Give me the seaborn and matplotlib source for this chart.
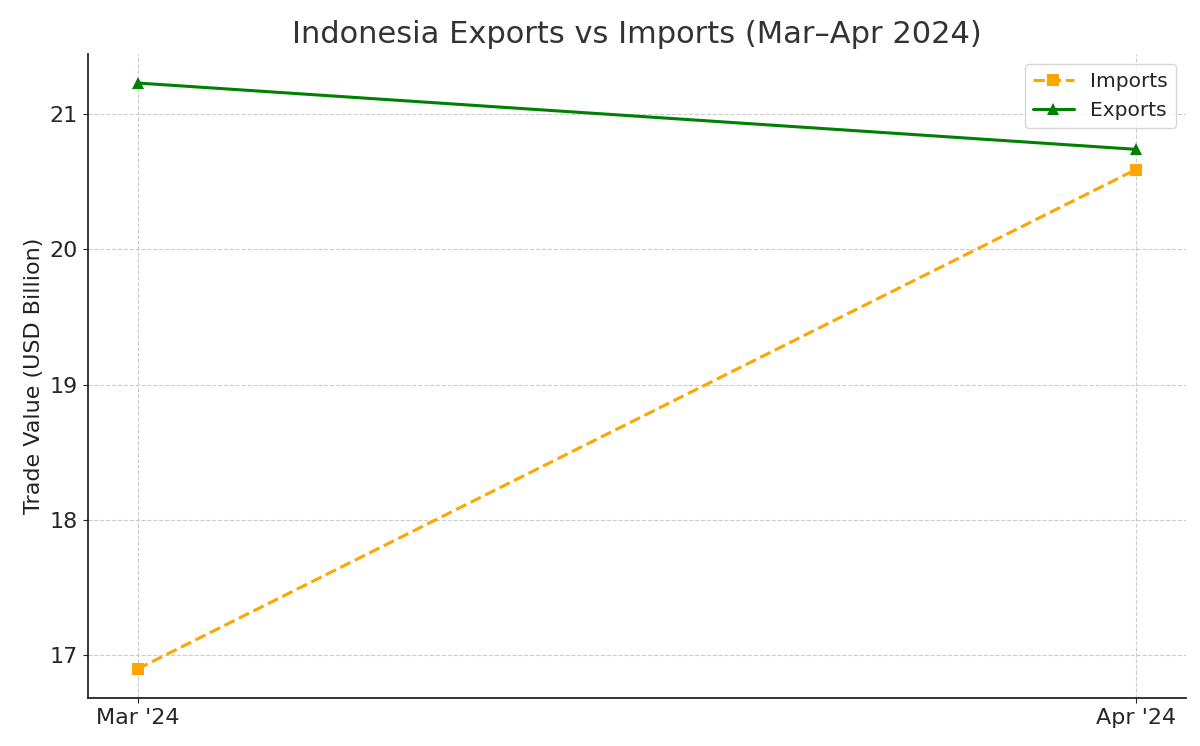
import matplotlib
matplotlib.use("Agg")
import matplotlib.pyplot as plt
import seaborn as sns
import pandas as pd

months = ["Mar '24", "Apr '24"]
imports = [16.90, 20.59]
exports = [21.23, 20.74]

df = pd.DataFrame({"Month": months, "Imports": imports, "Exports": exports})

sns.set_style("ticks")
fig, ax = plt.subplots(figsize=(12, 7.46), dpi=100)

sns.lineplot(data=df, x="Month", y="Imports", ax=ax, color="orange", marker="s",
             markersize=8, linewidth=2.2, linestyle="--", markeredgewidth=0, label="Imports")
sns.lineplot(data=df, x="Month", y="Exports", ax=ax, color="green", marker="^",
             markersize=8, linewidth=2.2, markeredgewidth=0, label="Exports")

ax.set_title("Indonesia Exports vs Imports (Mar\u2013Apr 2024)", fontsize=22, color="#333333", pad=8)
ax.set_xlabel("")
ax.set_ylabel("Trade Value (USD Billion)", fontsize=16, color="#222222")
ax.tick_params(labelsize=16)
ax.grid(True, linestyle="--", color="#cccccc", linewidth=0.8)
sns.despine(ax=ax)
for s in ax.spines.values():
    s.set_linewidth(1.3)
ax.legend(loc="upper right", fontsize=14.5)

fig.subplots_adjust(left=0.073, right=0.988, top=0.928, bottom=0.064)
fig.savefig("out.png")
